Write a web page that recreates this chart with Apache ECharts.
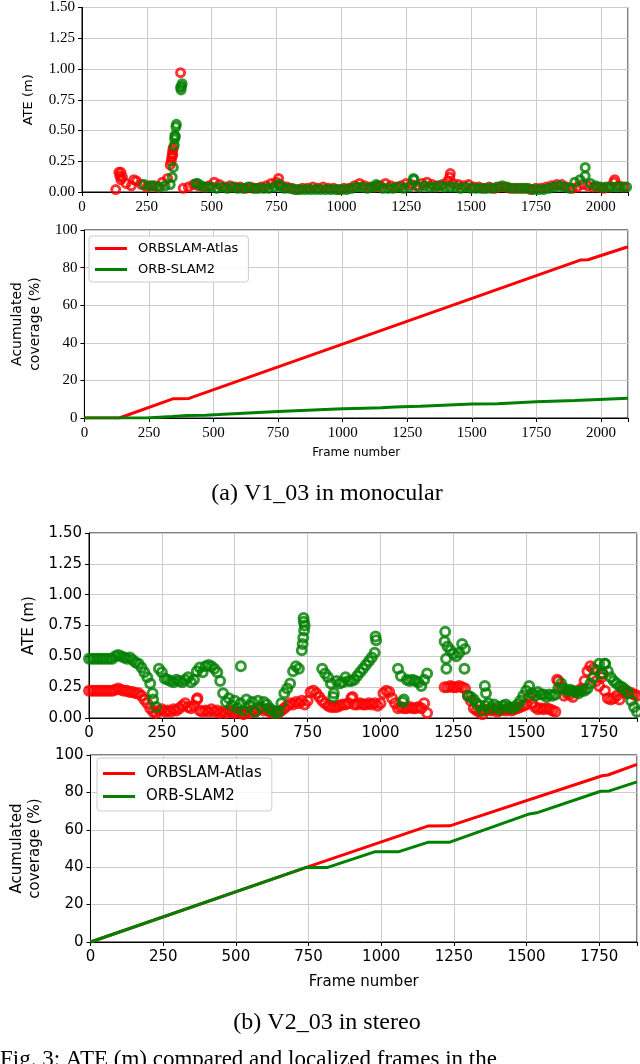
<!DOCTYPE html>
<html>
<head>
<meta charset="utf-8">
<script src="https://cdn.jsdelivr.net/npm/echarts@6/dist/echarts.min.js"></script>
<style>
  html, body { margin: 0; padding: 0; background: #fff; }
  #chart { width: 640px; height: 1064px; }
</style>
</head>
<body>
<div id="chart"></div>
<script>
// (a) V1_03 monocular — ATE samples every 20 frames
const monoStart = { atlas: 130, orb: 240 };
const monoStep = 20;
const monoAtlasAte = [
  0.02,0.16,0.07,0.05,0.09,0.06,0.04,0.05,0.04,0.08,
  0.11,0.30,null,0.03,0.04,0.06,0.05,0.04,0.05,0.08,
  0.06,0.04,0.05,0.04,0.04,0.03,0.04,0.03,0.04,0.05,
  0.07,0.08,0.05,0.04,0.03,0.02,0.03,0.03,0.04,0.03,
  0.04,0.03,0.03,0.02,0.03,0.03,0.05,0.07,0.05,0.04,
  0.04,0.05,0.07,0.05,0.04,0.05,0.07,0.06,0.05,0.07,
  0.08,0.06,0.05,0.06,0.09,0.07,0.06,0.05,0.06,0.04,
  0.04,0.03,0.04,0.03,0.04,0.04,0.03,0.03,0.03,0.03,
  0.02,0.03,0.03,0.04,0.05,0.06,0.06,0.04,0.03,0.04,
  0.06,0.05,0.04,0.04,0.03,0.04,0.08,0.05,0.04
];
const monoOrbAte = [
  0.06,0.05,0.05,0.04,0.05,0.06,0.45,0.85,null,null,
  0.07,0.05,0.04,0.04,0.03,0.04,0.03,0.04,0.03,0.03,
  0.04,0.03,0.03,0.03,0.03,0.04,0.05,0.03,0.03,0.02,
  0.02,0.02,0.02,0.02,0.02,0.02,0.02,0.02,0.02,0.02,
  0.03,0.04,0.04,0.03,0.04,0.05,0.03,0.03,0.03,0.04,
  0.03,0.04,0.10,0.04,0.05,0.04,0.04,0.05,0.04,0.04,
  0.04,0.03,0.04,0.03,0.03,0.03,0.03,0.03,0.04,0.05,
  0.04,0.03,0.03,0.03,0.03,0.02,0.02,0.02,0.03,0.04,
  0.05,0.04,0.03,0.08,0.10,0.13,0.07,0.05,0.04,0.04,
  0.04,0.04,0.04,0.04
];
// spikes (several samples at nearly the same frame)
const monoAtlasSpikes = [[142,0.16],[146,0.13],[150,0.10],[156,0.12],[200,0.10],[340,0.22],[344,0.25],[346,0.28],[348,0.31],[350,0.34],[352,0.36],[380,0.97],[758,0.11],[1418,0.12],[1420,0.15],[2054,0.10]];
const monoOrbSpikes = [[348,0.12],[352,0.20],[356,0.38],[357,0.43],[358,0.46],[362,0.53],[364,0.55],[382,0.83],[384,0.86],[386,0.88],[1940,0.20],[1134,0.06],[1278,0.11],[760,0.06],[446,0.07]];

const monoAtlasCov = [[0,0],[135,0],[345,10.3],[405,10.4],[1920,84],[1950,84.2],[2105,91.1]];
const monoOrbCov = [[0,0],[240,0],[340,0.8],[400,1.3],[470,1.5],[520,1.8],[750,3.5],[1000,4.9],[1050,5.1],[1150,5.4],[1200,5.8],[1300,6.2],[1500,7.4],[1600,7.6],[1750,8.6],[1900,9.3],[2105,10.5]];

// (b) V2_03 stereo — ATE samples every 10 frames from 0
const stereoStep = 10;
const stereoAtlasAte = [
  0.22,0.22,0.22,0.22,0.22,0.22,0.22,0.22,0.22,0.23,
  0.24,0.23,0.22,0.22,0.21,0.21,0.20,0.20,0.18,0.15,
  0.12,0.08,0.05,0.04,0.06,0.07,0.05,0.06,0.05,0.07,
  0.06,0.08,0.10,0.12,0.09,0.08,0.10,0.15,0.06,0.05,
  0.06,0.05,0.07,0.05,0.06,0.04,0.05,0.04,0.06,0.05,
  0.04,0.05,0.04,0.03,0.05,0.04,0.06,0.05,0.07,0.08,
  0.06,0.07,0.05,0.04,0.05,0.04,0.06,0.08,0.10,0.12,
  0.11,0.13,0.12,0.14,0.11,0.14,0.21,0.22,0.20,0.17,
  0.14,0.12,0.10,0.09,0.09,0.09,0.10,0.11,0.11,0.12,
  0.16,0.11,0.11,0.12,0.11,0.11,0.12,0.11,0.12,0.10,
  0.12,0.20,0.22,0.21,0.16,0.12,0.08,0.09,0.08,0.08,
  0.09,0.08,0.08,0.09,0.08,0.12,0.04,null,null,null,
  null,null,0.25,0.25,0.26,0.25,0.25,0.26,0.25,0.24,
  0.18,0.14,0.08,0.06,0.05,0.03,0.06,0.07,0.06,0.07,
  0.05,0.06,0.07,0.06,0.07,0.06,0.07,0.08,0.09,0.10,
  0.11,0.17,0.12,0.09,0.07,0.08,0.07,0.08,0.07,0.06,
  0.05,0.30,0.25,0.18,0.20,0.19,0.17,0.21,0.22,0.24,
  0.30,0.38,0.42,0.40,0.30,0.26,0.36,0.22,0.16,0.15,
  0.16,0.18,0.15,0.22,0.20,0.21,0.20,0.19,0.18
];
const stereoOrbAte = [
  0.48,0.48,0.48,0.48,0.48,0.48,0.48,0.48,0.48,0.50,
  0.51,0.50,0.49,0.48,0.49,0.47,0.45,0.44,0.41,0.37,
  0.33,0.28,0.15,0.09,0.40,0.37,0.32,0.31,0.30,0.29,
  0.31,0.30,0.29,0.31,0.33,0.29,0.31,0.38,0.41,0.37,
  0.42,0.43,0.42,0.40,0.37,0.30,0.20,0.13,0.16,0.10,
  0.14,0.08,0.12,0.06,0.15,0.10,0.13,0.05,0.14,0.09,
  0.13,0.11,0.08,0.06,0.04,0.05,0.12,0.20,0.24,0.28,
  0.38,0.42,0.40,0.55,0.75,null,null,null,null,null,
  0.40,0.36,0.33,0.28,0.20,0.30,0.28,0.29,0.33,0.30,
  0.30,0.31,0.34,0.37,0.40,0.43,0.46,0.49,0.53,null,
  null,null,null,null,null,null,0.40,0.34,0.15,0.31,
  0.30,0.31,0.30,0.29,0.26,0.31,0.36,null,null,null,
  null,null,0.62,0.58,0.55,0.52,0.50,0.53,0.60,0.56,
  0.18,0.17,0.15,0.12,0.10,0.06,0.10,0.12,0.08,0.11,
  0.09,0.07,0.10,0.11,0.09,0.08,0.09,0.11,0.14,0.18,
  0.22,0.26,0.20,0.18,0.21,0.19,0.19,0.17,0.19,0.18,
  0.19,0.24,0.28,0.24,0.22,0.23,0.22,0.21,0.20,0.22,
  0.22,0.24,0.28,0.33,0.39,0.44,0.36,0.44,0.38,0.33,
  0.30,0.28,0.26,0.25,0.23,0.20,0.14,0.09,0.05
];
const stereoAtlasSpikes = [[372,0.16],[904,0.17],[1606,0.31],[1762,0.36],[1758,0.33]];
const stereoOrbSpikes = [[736,0.81],[737,0.78],[738,0.71],[735,0.65],[733,0.60],[983,0.66],[985,0.63],[1222,0.70],[1225,0.48],[1226,0.40],[1288,0.40],[1358,0.26],[1362,0.20],[521,0.42],[838,0.17],[1076,0.13],[218,0.20],[1770,0.44]];

const stereoAtlasCov = [[0,0],[740,39.8],[1160,62],[1236,62.1],[1760,88.9],[1780,89.3],[1880,95]];
const stereoOrbCov = [[0,0],[740,39.8],[816,39.9],[977,48.2],[1061,48.3],[1160,53.3],[1236,53.4],[1510,68.5],[1540,69.3],[1755,80.6],[1785,80.8],[1880,85.6]];

const legendNames = ["ORBSLAM-Atlas", "ORB-SLAM2"];
const RED = "#ff0000";
const GREEN = "#008000";

function toPairs(start, step, vals) {
  return vals.map((v, i) => [start + i * step, v]).filter((p) => p[1] !== null);
}

const serif = "Liberation Serif";
const sans = "DejaVu Sans";

function xAxisCfg(gridIndex, max, font, size, name, nameSize, nameGap) {
  return {
    type: "value",
    gridIndex,
    min: 0,
    max,
    interval: 250,
    name,
    nameLocation: "middle",
    nameGap,
    nameTextStyle: { fontFamily: sans, fontSize: nameSize, color: "#000" },
    axisLine: { show: true, lineStyle: { color: "#000", width: 1 } },
    axisTick: { show: true, length: 4, lineStyle: { color: "#000" } },
    axisLabel: {
      margin: 8,
      color: "#000",
      fontFamily: font,
      fontSize: size,
      formatter: (v) => (v % 250 === 0 ? String(v) : ""),
    },
    splitLine: { show: true, lineStyle: { color: "#cccccc", width: 1 } },
  };
}

function yAxisCfg(gridIndex, max, interval, digits, font, size, name, nameSize, nameGap) {
  return {
    type: "value",
    gridIndex,
    min: 0,
    max,
    interval,
    name,
    nameLocation: "middle",
    nameRotate: 90,
    nameGap,
    nameTextStyle: { fontFamily: sans, fontSize: nameSize, color: "#000", lineHeight: 18 },
    axisLine: { show: true, lineStyle: { color: "#000", width: 1 } },
    axisTick: { show: true, length: 4, lineStyle: { color: "#000" } },
    axisLabel: {
      margin: 7,
      color: "#000",
      fontFamily: font,
      fontSize: size,
      formatter: (v) => v.toFixed(digits),
    },
    splitLine: { show: true, lineStyle: { color: "#cccccc", width: 1 } },
  };
}

function scatter(name, idx, data, color, size, border) {
  return {
    name,
    type: "scatter",
    xAxisIndex: idx,
    yAxisIndex: idx,
    data,
    symbol: "circle",
    symbolSize: size,
    itemStyle: { color: "rgba(255,255,255,0)", borderColor: color, borderWidth: border },
    emphasis: { disabled: true },
  };
}

function line(name, idx, data, color) {
  return {
    name,
    type: "line",
    xAxisIndex: idx,
    yAxisIndex: idx,
    data,
    symbol: "none",
    lineStyle: { color, width: 3 },
    itemStyle: { color },
    emphasis: { disabled: true },
  };
}

function legendCfg(left, top, size, gap, padding) {
  return {
    orient: "vertical",
    left,
    top,
    data: legendNames,
    icon: "rect",
    itemWidth: 32,
    itemHeight: 3,
    itemGap: gap,
    selectedMode: false,
    backgroundColor: "rgba(255,255,255,0.85)",
    borderColor: "#cccccc",
    borderWidth: 1,
    borderRadius: 3,
    padding,
    textStyle: { fontFamily: sans, fontSize: size, color: "#000", padding: [0, 0, 0, 6] },
  };
}

const myChart = echarts.init(document.getElementById("chart"), null, { renderer: "canvas" });

const option = {
  animation: false,
  backgroundColor: "#fff",
  grid: [
    { left: 82, top: 4, width: 546, height: 188, show: true, borderColor: "#000", borderWidth: 1 },
    { left: 82, top: 230, width: 546, height: 188, show: true, borderColor: "#000", borderWidth: 1 },
    { left: 89, top: 533, width: 548, height: 185, show: true, borderColor: "#000", borderWidth: 1 },
    { left: 89, top: 755, width: 548, height: 187, show: true, borderColor: "#000", borderWidth: 1 },
  ],
  xAxis: [
    xAxisCfg(0, 2105, serif, 15, "", 12, 0),
    xAxisCfg(1, 2105, serif, 15, "Frame number", 12, 29),
    xAxisCfg(2, 1880, sans, 15, "", 15, 0),
    xAxisCfg(3, 1880, sans, 15, "Frame number", 15, 33),
  ],
  yAxis: [
    yAxisCfg(0, 1.5, 0.25, 2, serif, 15, "ATE (m)", 13, 37),
    yAxisCfg(1, 100, 20, 0, serif, 15, "Acumulated\ncoverage (%)", 14, 40),
    yAxisCfg(2, 1.5, 0.25, 2, sans, 15, "ATE (m)", 15, 47),
    yAxisCfg(3, 100, 20, 0, sans, 15, "Acumulated\ncoverage (%)", 15, 41),
  ],
  legend: [
    legendCfg(89, 236, 13, 8, [6, 10, 6, 6]),
    legendCfg(97, 758, 15, 8, [8, 10, 7, 6]),
  ],
  graphic: [
    {
      type: "text", x: 327, y: 494,
      style: { text: "(a) V1_03 in monocular", font: '24px "Liberation Serif"', fill: "#000", align: "center", verticalAlign: "middle" },
    },
    {
      type: "text", x: 327, y: 1023,
      style: { text: "(b) V2_03 in stereo", font: '24px "Liberation Serif"', fill: "#000", align: "center", verticalAlign: "middle" },
    },
    {
      type: "text", x: 0, y: 1060,
      style: { text: "Fig. 3: ATE (m) compared and localized frames in the", font: '23px "Liberation Serif"', fill: "#000", align: "left", verticalAlign: "middle" },
    },
  ],
  series: [
    scatter("Atlas ATE (a)", 0, toPairs(monoStart.atlas, monoStep, monoAtlasAte).concat(monoAtlasSpikes), RED, 8, 3),
    scatter("SLAM2 ATE (a)", 0, toPairs(monoStart.orb, monoStep, monoOrbAte).concat(monoOrbSpikes), GREEN, 8, 3),
    line(legendNames[0], 1, monoAtlasCov, RED),
    line(legendNames[1], 1, monoOrbCov, GREEN),
    scatter("Atlas ATE (b)", 2, toPairs(0, stereoStep, stereoAtlasAte).concat(stereoAtlasSpikes), RED, 9, 3),
    scatter("SLAM2 ATE (b)", 2, toPairs(0, stereoStep, stereoOrbAte).concat(stereoOrbSpikes), GREEN, 9, 3),
    line(legendNames[0], 3, stereoAtlasCov, RED),
    line(legendNames[1], 3, stereoOrbCov, GREEN),
  ],
};

option && myChart.setOption(option);
</script>
</body>
</html>
